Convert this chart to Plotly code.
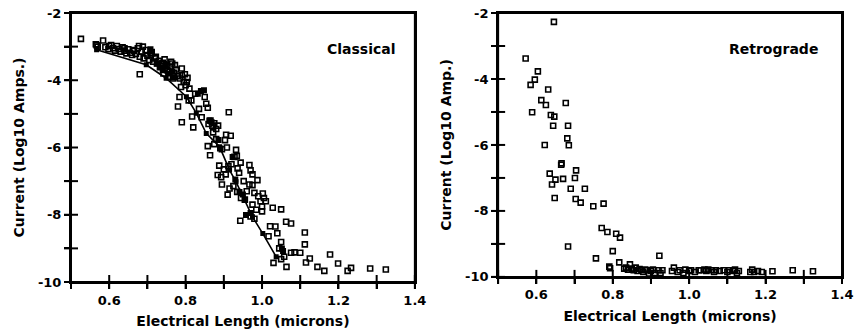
import plotly.graph_objects as go

# ---- Classical device: individual measurements (open squares) ----
classical_x = [
    0.526, 0.567, 0.584, 0.565, 0.570, 0.590, 0.598, 0.605, 0.610, 0.615, 0.620, 0.625,
    0.630, 0.635, 0.640, 0.645, 0.650, 0.655, 0.660, 0.665, 0.670, 0.675, 0.678, 0.680,
    0.680, 0.685, 0.690, 0.695, 0.700, 0.705, 0.710, 0.715, 0.720, 0.725, 0.730, 0.735,
    0.740, 0.745, 0.750, 0.755, 0.760, 0.765, 0.770, 0.775, 0.780, 0.785, 0.790, 0.795,
    0.800, 0.805, 0.810, 0.784, 0.780, 0.790, 0.815, 0.817, 0.820, 0.825, 0.835, 0.854,
    0.858, 0.860, 0.865, 0.870, 0.875, 0.880, 0.885, 0.913, 0.906, 0.918, 0.858, 0.864,
    0.875, 0.895, 0.908, 0.932, 0.934, 0.928, 0.888, 0.884, 0.893, 0.900, 0.905, 0.912,
    0.936, 0.940, 0.967, 0.970, 0.975, 0.988, 0.967, 0.975, 0.895, 0.910, 0.915, 0.925,
    0.935, 0.945, 0.955, 0.980, 1.002, 1.005, 1.010, 0.985, 0.975, 1.000, 1.000, 1.028,
    1.050, 0.943, 0.970, 0.980, 1.021, 1.035, 1.063, 1.076, 1.017, 1.050, 1.076, 1.085,
    1.100, 1.112, 1.112, 1.115, 1.125, 1.145, 1.163, 1.178, 1.199, 1.224, 1.233, 1.283,
    1.324, 1.030, 1.050, 1.064, 0.600, 0.640, 0.662, 0.688, 0.708, 0.722, 0.745, 0.752,
    0.762, 0.772, 0.790, 0.798, 0.742, 0.757, 0.767, 0.788, 0.803, 0.808, 0.850, 0.842,
    0.872, 0.880, 0.903, 0.920, 0.944, 0.952, 0.960, 0.990, 0.996, 1.040, 1.045, 1.058,
]
classical_y = [
    -2.77, -2.96, -2.82, -2.93, -3.00, -3.02, -3.08, -2.95, -3.05, -3.12, -2.98, -3.07,
    -3.15, -3.02, -3.12, -3.20, -3.08, -3.18, -3.25, -3.12, -3.22, -3.05, -2.98, -3.30,
    -3.82, -3.15, -3.35, -3.10, -3.28, -3.40, -3.20, -3.45, -3.35, -3.50, -3.42, -3.58,
    -3.48, -3.65, -3.55, -3.72, -3.60, -3.50, -3.78, -3.68, -3.88, -3.95, -3.85, -4.05,
    -4.15, -3.93, -4.25, -4.50, -4.78, -5.25, -4.60, -5.08, -5.40, -4.40, -4.85, -4.70,
    -4.82, -5.30, -5.20, -5.35, -5.28, -5.45, -5.35, -4.95, -5.62, -5.65, -5.96, -6.23,
    -5.90, -6.05, -6.00, -6.07, -6.25, -6.28, -6.54, -6.82, -6.88, -6.65, -6.80, -6.55,
    -6.62, -6.75, -6.52, -6.68, -6.80, -6.97, -7.10, -7.12, -7.10, -7.40, -7.22, -7.15,
    -7.32, -7.50, -7.55, -7.35, -7.37, -7.50, -7.60, -7.85, -7.70, -7.75, -7.90, -7.79,
    -7.84, -8.18, -8.05, -8.12, -8.34, -8.35, -8.21, -8.26, -8.64, -8.81, -9.13, -9.12,
    -9.13, -8.53, -8.88, -9.42, -9.30, -9.55, -9.67, -9.18, -9.45, -9.67, -9.58, -9.60,
    -9.63, -9.43, -9.32, -9.55, -2.98, -3.05, -3.10, -3.00, -3.25, -3.30, -3.38, -3.70,
    -3.45, -3.55, -3.65, -3.82, -3.80, -3.90, -3.95, -4.20, -4.05, -4.60, -4.50, -5.10,
    -5.55, -5.75, -5.78, -6.50, -6.45, -7.00, -7.30, -7.45, -7.60, -8.55, -9.00, -9.25,
]

# ---- Classical device: dark (filled) measurements ----
classical_dark_x = [0.708, 0.712, 0.725, 0.732, 0.740, 0.748, 0.756, 0.765, 0.770, 0.832, 0.840,
                    0.848, 0.862, 0.868, 0.886, 0.890, 0.923, 0.930, 0.941, 0.950, 0.958, 0.970,
                    1.052, 1.055]
classical_dark_y = [-3.08, -3.15, -3.50, -3.62, -3.70, -3.55, -3.80, -3.75, -3.92, -4.40, -4.32,
                    -4.30, -5.20, -5.25, -5.78, -6.03, -6.28, -6.95, -7.32, -7.40, -8.01, -7.95,
                    -9.00, -9.08]

# ---- Classical device: average curve ----
mean_x = [0.567, 0.697, 0.749, 0.802, 0.828, 0.854, 0.889, 0.915, 0.932, 0.954, 0.975, 1.002, 1.037]
mean_y = [-3.09, -3.54, -3.94, -4.49, -4.98, -5.58, -5.98, -6.67, -7.02, -7.56, -8.06, -8.56, -9.25]

# ---- Retrograde device ----
retro_x = [
    0.646, 0.572, 0.604, 0.596, 0.585, 0.631, 0.613, 0.625, 0.589, 0.638, 0.647, 0.677,
    0.644, 0.683, 0.681, 0.622, 0.685, 0.666, 0.665, 0.704, 0.635, 0.701, 0.670, 0.650,
    0.641, 0.690, 0.727, 0.648, 0.703, 0.716, 0.776, 0.749, 0.771, 0.786, 0.809, 0.819,
    0.683, 0.800, 0.756, 0.922, 0.817, 0.791, 0.793,
    0.830, 0.835, 0.840, 0.845, 0.850, 0.855, 0.860, 0.865, 0.870, 0.875, 0.880, 0.885,
    0.890, 0.895, 0.900, 0.905, 0.910, 0.920, 0.925, 0.930, 0.955, 0.960, 0.970, 0.975,
    0.985, 0.990, 1.000, 1.005, 1.015, 1.025, 1.030, 1.040, 1.045, 1.050, 1.060, 1.065,
    1.070, 1.080, 1.090, 1.100, 1.105, 1.115, 1.120, 1.125, 1.130, 1.160, 1.165, 1.170,
    1.180, 1.190, 1.218, 1.271, 1.324,
]
retro_y = [
    -2.27, -3.38, -3.77, -4.02, -4.18, -4.32, -4.64, -4.79, -5.01, -5.09, -5.14, -4.73,
    -5.42, -5.42, -5.80, -6.00, -6.01, -6.56, -6.60, -6.77, -6.87, -7.00, -7.03, -7.05,
    -7.20, -7.33, -7.33, -7.61, -7.64, -7.75, -7.78, -7.86, -8.52, -8.64, -8.69, -8.81,
    -9.08, -9.22, -9.44, -9.36, -9.56, -9.69, -9.74,
    -9.75, -9.72, -9.78, -9.62, -9.75, -9.80, -9.72, -9.82, -9.76, -9.80, -9.85, -9.78,
    -9.80, -9.90, -9.82, -9.78, -9.88, -9.80, -9.88, -9.80, -9.82, -9.72, -9.85, -9.80,
    -9.88, -9.78, -9.82, -9.80, -9.85, -9.80, -9.80, -9.78, -9.82, -9.78, -9.80, -9.85,
    -9.80, -9.82, -9.80, -9.85, -9.80, -9.82, -9.78, -9.88, -9.82, -9.85, -9.78, -9.85,
    -9.82, -9.85, -9.83, -9.80, -9.83,
]

# Axis ranges; tick marks every 0.1 micron / 1 decade, labels on every other one
X_RANGE = [0.5, 1.4]
Y_RANGE = [-10, -2]
x_tickvals = [0.5, 0.6, 0.7, 0.8, 0.9, 1.0, 1.1, 1.2, 1.3, 1.4]
x_ticktext = ["", "0.6", "", "0.8", "", "1.0", "", "1.2", "", "1.4"]
y_tickvals = [-10, -9, -8, -7, -6, -5, -4, -3, -2]
y_ticktext = ["-10", "", "-8", "", "-6", "", "-4", "", "-2"]

FONT = "DejaVu Sans"
TICK_FONT = dict(family=FONT, size=13, color="black", weight="bold")
TITLE_FONT = dict(family=FONT, size=14, color="black", weight="bold")

W, H = 855, 333
MARGIN = dict(l=71, r=13, t=13, b=51)
TICK_LEN = 5

# subplot domains in paper units
LEFT_X, RIGHT_X = [0.0, 0.446], [0.554, 1.0]
LEFT_Y, RIGHT_Y = [0.0, 1.0], [0.019, 1.0]


def x_axis(domain, anchor):
    return dict(
        domain=domain, anchor=anchor, range=X_RANGE, automargin=False,
        tickmode="array", tickvals=x_tickvals, ticktext=x_ticktext,
        showline=True, linecolor="black", linewidth=2, mirror=True,
        showgrid=False, zeroline=False,
        ticks="outside", tickcolor="black", tickwidth=2, ticklen=TICK_LEN,
        tickfont=TICK_FONT,
        title=dict(text="Electrical Length (microns)", standoff=10, font=TITLE_FONT),
    )


def y_axis(domain, anchor, title):
    return dict(
        domain=domain, anchor=anchor, range=Y_RANGE, automargin=False,
        tickmode="array", tickvals=y_tickvals, ticktext=y_ticktext,
        showline=True, linecolor="black", linewidth=2, mirror=True,
        showgrid=False, zeroline=False,
        ticks="outside", tickcolor="black", tickwidth=2, ticklen=TICK_LEN,
        tickfont=TICK_FONT,
        title=dict(text=title, standoff=10, font=TITLE_FONT),
    )


def tick_traces(xname, yname):
    """Tick marks drawn as short line markers sitting on the bottom and left edges."""
    bottom = go.Scatter(
        x=x_tickvals, y=[Y_RANGE[0]] * len(x_tickvals), mode="markers",
        marker=dict(symbol="line-ns", size=2 * TICK_LEN, line=dict(width=2, color="black")),
        cliponaxis=False, hoverinfo="skip", showlegend=False, xaxis=xname, yaxis=yname)
    left = go.Scatter(
        x=[X_RANGE[0]] * len(y_tickvals), y=y_tickvals, mode="markers",
        marker=dict(symbol="line-ew", size=2 * TICK_LEN, line=dict(width=2, color="black")),
        cliponaxis=False, hoverinfo="skip", showlegend=False, xaxis=xname, yaxis=yname)
    return [bottom, left]


def frame(xname, yname):
    return dict(type="rect", xref=f"{xname} domain", yref=f"{yname} domain",
                x0=0, x1=1, y0=0, y1=1, line=dict(color="black", width=2), layer="above")


open_marker = dict(symbol="square-open", size=5, color="black", line=dict(width=1.6, color="black"))

fig = go.Figure()
fig.add_trace(go.Scatter(x=classical_x, y=classical_y, mode="markers", marker=open_marker,
                         xaxis="x", yaxis="y", showlegend=False))
fig.add_trace(go.Scatter(x=classical_dark_x, y=classical_dark_y, mode="markers",
                         marker=dict(symbol="square", size=6, color="black"),
                         xaxis="x", yaxis="y", showlegend=False))
fig.add_trace(go.Scatter(x=mean_x, y=mean_y, mode="lines+markers",
                         line=dict(color="black", width=1.6),
                         marker=dict(symbol="square", size=5, color="black"),
                         xaxis="x", yaxis="y", showlegend=False))
fig.add_trace(go.Scatter(x=retro_x, y=retro_y, mode="markers", marker=open_marker,
                         xaxis="x2", yaxis="y2", showlegend=False))

for tr in tick_traces("x", "y") + tick_traces("x2", "y2"):
    fig.add_trace(tr)

fig.update_layout(
    template="none",
    width=W, height=H, margin=MARGIN,
    paper_bgcolor="white", plot_bgcolor="white",
    font=dict(family=FONT, color="black"),
    xaxis=x_axis(LEFT_X, "y"),
    yaxis=y_axis(LEFT_Y, "x", "Current (Log10 Amps.)"),
    xaxis2=x_axis(RIGHT_X, "y2"),
    yaxis2=y_axis(RIGHT_Y, "x2", "Current (Log10 Amp.)"),
    shapes=[frame("x", "y"), frame("x2", "y2")],
    annotations=[
        dict(x=1.26, y=-3.08, xref="x", yref="y", text="Classical", showarrow=False,
             font=TITLE_FONT),
        dict(x=1.22, y=-3.08, xref="x2", yref="y2", text="Retrograde", showarrow=False,
             font=TITLE_FONT),
    ],
)

fig.write_html("out.html")
